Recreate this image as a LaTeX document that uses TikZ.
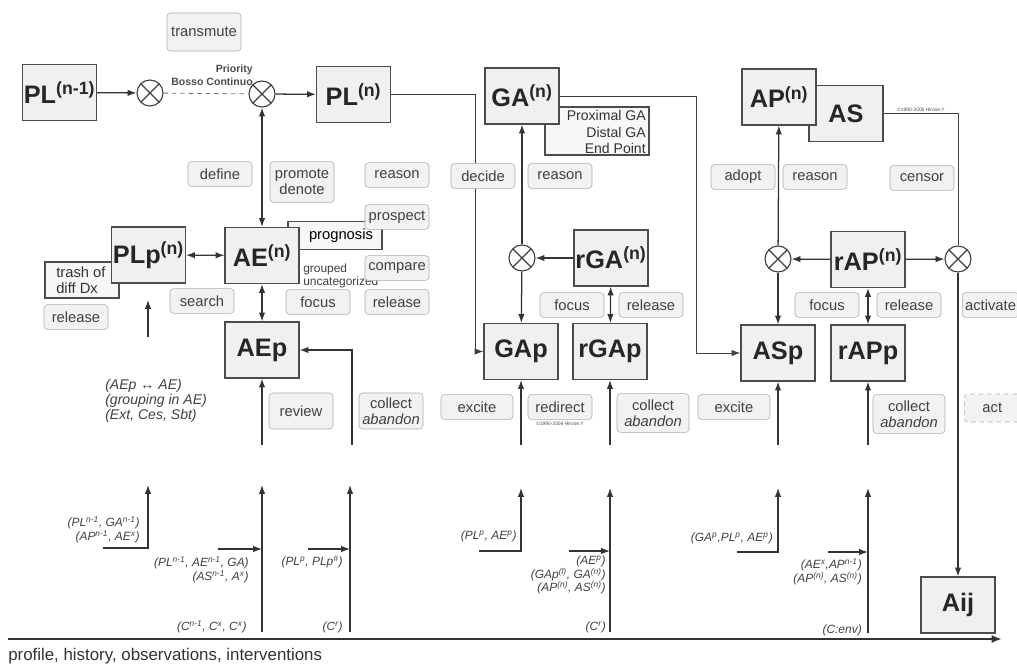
\documentclass[tikz,border=0pt]{standalone}
\usepackage{fontspec}
\setmainfont{Liberation Sans}
\usetikzlibrary{arrows.meta,positioning}
\tikzset{
  bloc/.style={draw=black!70,fill=gray!12,thick,minimum width=18.5mm,minimum height=14mm,
    inner sep=1pt,text=black!85,font=\bfseries\fontsize{18}{20}\selectfont},
  back/.style={draw=black!70,fill=gray!6,thick,inner sep=1pt},
  tag/.style={draw=gray!65,fill=gray!10,rounded corners=2.5pt,align=center,minimum width=16mm,
    minimum height=6.2mm,inner sep=2pt,text=black!75,font=\fontsize{10.5}{11}\selectfont},
  mix/.style={circle,draw=black!75,thick,fill=white,minimum size=6.5mm,inner sep=0pt,
    path picture={\draw[black!75,thick]
      (path picture bounding box.north west) -- (path picture bounding box.south east)
      (path picture bounding box.north east) -- (path picture bounding box.south west);}},
  fl/.style={-{Latex[length=2.2mm,width=1.6mm]},line width=0.9pt,black!80},
  dfl/.style={{Latex[length=2.2mm,width=1.6mm]}-{Latex[length=2.2mm,width=1.6mm]},line width=0.9pt,black!80},
  wire/.style={line width=0.6pt,black!75},
  frm/.style={font=\itshape\fontsize{8.5}{9.5}\selectfont,align=right,inner sep=0pt,text=black!75},
  note/.style={font=\fontsize{10.5}{11}\selectfont,inner sep=0pt,text=black!80},
  cpy/.style={font=\fontsize{3.5}{4}\selectfont,inner sep=0pt,text=black!70},
}

\begin{document}
\begin{tikzpicture}[x=0.25mm,y=-0.25mm]
  \useasboundingbox (0,0) rectangle (1017,664);
  % boxes lying behind others
  \node[back,minimum width=18.5mm,minimum height=9mm] (trash) at (82,280) {};
  \node[back,minimum width=23.5mm,minimum height=6.8mm,font=\fontsize{10.5}{11}\selectfont] (prog) at (335,235.5) {\hspace*{3mm}prognosis};
  \node[back,minimum width=26mm,minimum height=12mm] (prox) at (597,131) {};
  \node[note,anchor=east,align=right,font=\fontsize{10}{11.5}\selectfont] (proxtxt) at (646,132) {Proximal GA\\Distal GA\\End Point};
  \node[bloc] (AS) at (846,113.5) {AS};
  % main boxes
  \node[bloc] (PLn1) at (59.5,92.5) {PL\textsuperscript{(n-1)}};
  \node[bloc] (PLn) at (353.5,94.5) {PL\textsuperscript{(n)}};
  \node[bloc] (GA) at (522,96) {GA\textsuperscript{(n)}};
  \node[bloc] (AP) at (779,97) {AP\textsuperscript{(n)}};
  \node[bloc] (PLp) at (148.5,255) {PLp\textsuperscript{(n)}};
  \node[bloc] (AE) at (262,255.5) {AE\textsuperscript{(n)}};
  \node[bloc] (AEp) at (262,350) {AEp};
  \node[bloc] (GAp) at (521,351.5) {GAp};
  \node[bloc] (rGA) at (611,258) {rGA\textsuperscript{(n)}};
  \node[bloc] (rGAp) at (610,351.5) {rGAp};
  \node[bloc] (ASp) at (778,353) {ASp};
  \node[bloc] (rAP) at (868,259.5) {rAP\textsuperscript{(n)}};
  \node[bloc] (rAPp) at (868,353) {rAPp};
  \node[bloc] (Aij) at (958,605) {Aij};
  \node[note,anchor=west,align=left] (trashtxt) at (56,280) {trash of\\diff Dx};
  % mixing points
  \node[mix] (m1) at (150,93) {};
  \node[mix] (m2) at (262,94) {};
  \node[mix] (m3) at (522,258) {};
  \node[mix] (m4) at (778,259) {};
  \node[mix] (m5) at (958,259) {};

  \draw[fl] (PLn1) -- (m1);
  \draw[wire,dashed,black!55] (m1) -- (m2);
  \draw[fl] (m2) -- (PLn);
  \draw[dfl] (AE) -- (m2);
  \draw[dfl] (PLp) -- (AE);
  \draw[dfl] (AE) -- (AEp);
  \draw[wire,-{Latex[length=2.2mm,width=1.6mm]}] (PLn.east) -- ++(84,0) |- (GAp);
  \draw[wire,-{Latex[length=2.2mm,width=1.6mm]}] (GA.east) -- ++(137,0) |- (ASp);
  \draw[wire] (AS.east |- 0,113) -| (m5);
  \draw[fl] (m3) -- (GA);
  \draw[fl] (rGA) -- (m3);
  \draw[fl] (m3) -- (GAp);
  \draw[dfl] (rGA) -- (rGAp);
  \draw[fl] (m4) -- (AP);
  \draw[fl] (rAP) -- (m4);
  \draw[fl] (rAP) -- (m5);
  \draw[fl] (m4) -- (ASp);
  \draw[dfl] (rAP) -- (rAPp);
  \draw[fl] (m5) -- (Aij);

  % inputs from below, upper stubs
  \coordinate (uPLp) at (148,337);  \coordinate (tPLp) at (148,300);
  \coordinate (uAEp) at (262,445);  \coordinate (uAEr) at (352,445);
  \coordinate (uGAp) at (521,445);  \coordinate (urGAp) at (610,445);
  \coordinate (uASp) at (778,445);  \coordinate (urAPp) at (868,445);
  \draw[fl] (uPLp) -- (tPLp);
  \draw[fl] (uAEp) -- (AEp);
  \draw[fl] (uAEr) |- (AEp);
  \draw[fl] (uGAp) -- (GAp);
  \draw[fl] (urGAp) -- (rGAp);
  \draw[fl] (uASp) -- (ASp);
  \draw[fl] (urAPp) -- (rAPp);

  % inputs from below, lower stubs
  \coordinate (a0) at (103,548);  \coordinate (a1) at (148,485);
  \coordinate (b0) at (262,632);  \coordinate (b1) at (262,485);  \coordinate (b2) at (218,549);  \coordinate (b3) at (262,549);
  \coordinate (c0) at (350,632);  \coordinate (c1) at (350,485);  \coordinate (c2) at (308,549);  \coordinate (c3) at (350,549);
  \coordinate (d0) at (479,551);  \coordinate (d1) at (521,488);
  \coordinate (e0) at (610,632);  \coordinate (e1) at (610,488);  \coordinate (e2) at (569,551);  \coordinate (e3) at (610,551);
  \coordinate (f0) at (737,552);  \coordinate (f1) at (778,488);
  \coordinate (g0) at (868,633);  \coordinate (g1) at (868,488);  \coordinate (g2) at (828,552);  \coordinate (g3) at (868,552);
  \draw[fl] (a0) -| (a1);
  \draw[fl] (b0) -- (b1);  \draw[fl] (b2) -- (b3);
  \draw[fl] (c0) -- (c1);  \draw[fl] (c2) -- (c3);
  \draw[fl] (d0) -| (d1);
  \draw[fl] (e0) -- (e1);  \draw[fl] (e2) -- (e3);
  \draw[fl] (f0) -| (f1);
  \draw[fl] (g0) -- (g1);  \draw[fl] (g2) -- (g3);

  % time axis
  \coordinate (axL) at (8,639);  \coordinate (axR) at (1002,639);
  \draw[-{Latex[length=2.6mm,width=2mm]},line width=1.3pt,black!80] (axL) -- (axR);
  \node[anchor=west,inner sep=0pt,text=black!80,font=\fontsize{12}{13}\selectfont] (axtxt) at (8,656) {profile, history, observations, interventions};

  % actions
  \node[tag,minimum width=18.5mm,minimum height=9.5mm] (transmute) at (204,32) {transmute};
  \node[tag] (define) at (220,174) {define};
  \node[tag,minimum height=10.2mm] (promote) at (302,182) {promote\\denote};
  \node[tag] (reasonA) at (397,175) {reason};
  \node[tag] (prospect) at (397,217) {prospect};
  \node[font=\fontsize{8.5}{9}\selectfont,anchor=west,align=left,inner sep=0pt,text=black!75] (grouped) at (303,276) {grouped\\uncategorized};
  \node[tag] (compare) at (397,268) {compare};
  \node[tag] (releaseA) at (397,302) {release};
  \node[tag] (focusA) at (318,302) {focus};
  \node[tag] (search) at (202,301) {search};
  \node[tag] (releaseL) at (76,317) {release};
  \node[tag,minimum height=9mm] (review) at (301,411) {review};
  \node[tag,minimum height=9mm] (collectA) at (391,411) {collect\\\textit{abandon}};
  \node[tag] (decide) at (483,176) {decide};
  \node[tag] (reasonB) at (560,176) {reason};
  \node[tag] (focusB) at (572,305) {focus};
  \node[tag] (releaseB) at (651,305) {release};
  \node[tag,minimum width=18mm] (exciteB) at (477,407) {excite};
  \node[tag] (redirect) at (560,407) {redirect};
  \node[tag,minimum width=18mm,minimum height=9.7mm] (collectB) at (653,413) {collect\\\textit{abandon}};
  \node[tag] (adopt) at (743,177) {adopt};
  \node[tag] (reasonC) at (815,177) {reason};
  \node[tag] (censor) at (922,178) {censor};
  \node[tag] (focusC) at (827,305) {focus};
  \node[tag] (releaseC) at (909,305) {release};
  \node[tag,minimum width=18mm] (exciteC) at (734,407) {excite};
  \node[tag,minimum width=18mm,minimum height=9.7mm] (collectC) at (909,414) {collect\\\textit{abandon}};
  \node[tag,anchor=west,minimum width=14mm,align=left] (activate) at (962,305) {activate};
  \node[tag,dashed,anchor=west,minimum width=14mm,minimum height=7mm] (act) at (964,408) {act};

  % small texts
  \node[anchor=south east,align=right,inner sep=0pt,text=black!70,font=\bfseries\fontsize{7.5}{9}\selectfont] (prio) at (253,86) {Priority\\Bosso Continuo};
  \node[cpy,anchor=south] (cpyA) at (921,112) {\textcopyright1990-2006 Hirose.Y};
  \node[cpy] (cpyB) at (560,424) {\textcopyright1990-2006 Hirose.Y};
  \node[frm,anchor=west,align=left,font=\itshape\fontsize{10}{10.5}\selectfont] (grp) at (105,401) {(AEp ↔ AE)\\(grouping in AE)\\(Ext, Ces, Sbt)};
  \node[frm,anchor=east] (inA) at (140,530) {(PL\textsuperscript{n-1}, GA\textsuperscript{n-1})\\(AP\textsuperscript{n-1}, AE\textsuperscript{x})};
  \node[frm,anchor=east] (inB) at (249,570) {(PL\textsuperscript{n-1}, AE\textsuperscript{n-1}, GA)\\(AS\textsuperscript{n-1}, A\textsuperscript{x})};
  \node[frm,anchor=east] (inBc) at (247,627) {(C\textsuperscript{n-1}, C\textsuperscript{x}, C\textsuperscript{x})};
  \node[frm,anchor=east] (inC) at (343,562) {(PL\textsuperscript{p}, PLp\textsuperscript{\#})};
  \node[frm,anchor=east] (inCc) at (343,627) {(C\textsuperscript{r})};
  \node[frm,anchor=east] (inD) at (517,536) {(PL\textsuperscript{p}, AE\textsuperscript{p})};
  \node[frm,anchor=east] (inE) at (606,575) {(AE\textsuperscript{p})\\(GAp\textsuperscript{(l)}, GA\textsuperscript{(n)})\\(AP\textsuperscript{(n)}, AS\textsuperscript{(n)})};
  \node[frm,anchor=east] (inEc) at (606,627) {(C\textsuperscript{r})};
  \node[frm,anchor=east] (inF) at (773,538) {(GA\textsuperscript{p},PL\textsuperscript{p}, AE\textsuperscript{p})};
  \node[frm,anchor=east] (inG) at (862,572) {(AE\textsuperscript{x},AP\textsuperscript{n-1})\\(AP\textsuperscript{(n)}, AS\textsuperscript{(n)})};
  \node[frm,anchor=east] (inGc) at (862,630) {(C:env)};
\end{tikzpicture}
\end{document}
